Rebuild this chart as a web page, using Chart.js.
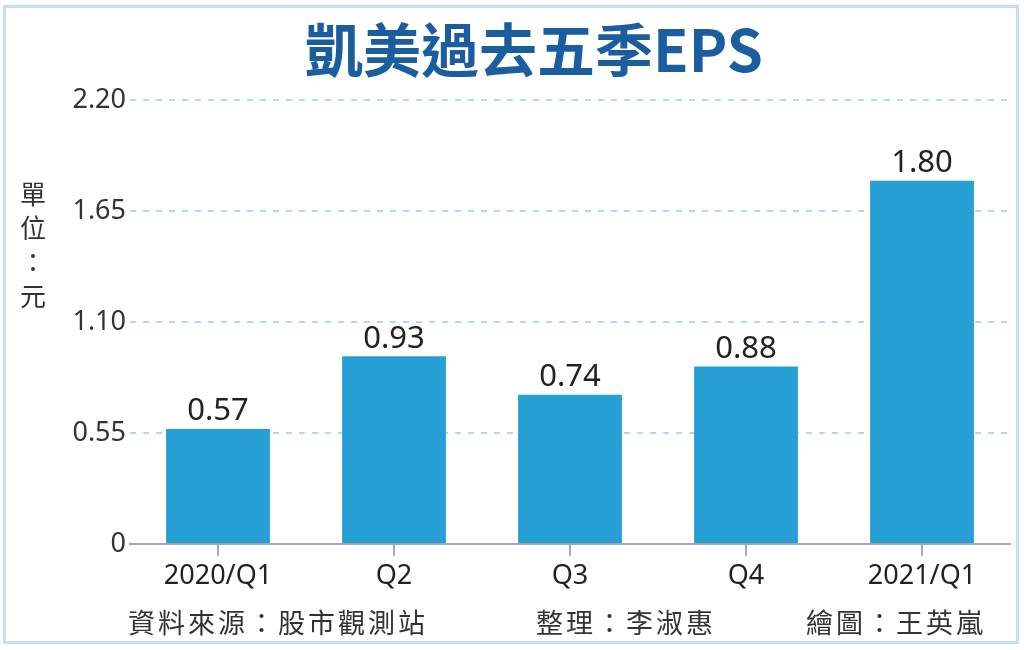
<!DOCTYPE html>
<html>
<head>
<meta charset="utf-8">
<script src="https://cdn.jsdelivr.net/npm/chart.js@4"></script>
<style>
    body { margin: 0; background: #fff; }
    #wrap { position: relative; width: 1024px; height: 650px; overflow: hidden; }
    #chartBox { position: absolute; left: 0; top: 0; width: 1024px; height: 650px; }
    .frame { position: absolute; left: 3px; top: 5px; right: 5px; bottom: 6px; border: 3px solid #c3e0f1; }
    .title { position: absolute; left: 0; width: 1068px; top: 10px; text-align: center;
        font-family: "Noto Sans CJK TC"; font-weight: 700; font-size: 58px; color: #1b5e9f; letter-spacing: 0px; line-height: 74px; }
    .unit { position: absolute; left: 19px; top: 176px; width: 28px; text-align: center;
        font-family: "Noto Sans CJK TC"; font-size: 26px; color: #333; line-height: 34px; }
    .foot { position: absolute; top: 604px; font-family: "Noto Sans CJK TC"; font-size: 27px;
        color: #333; letter-spacing: 3px; line-height: 36px; white-space: nowrap; }
</style>
</head>
<body>
<div id="wrap">
    <div class="frame"></div>
    <div id="chartBox"><canvas id="myChart"></canvas></div>
    <div class="title">凱美過去五季EPS</div>
    <div class="unit">單<br>位<br>：<br>元</div>
    <div class="foot" style="left:128px">資料來源：股市觀測站</div>
    <div class="foot" style="left:536px">整理：李淑惠</div>
    <div class="foot" style="left:806px">繪圖：王英嵐</div>
</div>
<script>
const quarters = ['2020/Q1', 'Q2', 'Q3', 'Q4', '2021/Q1'];
const eps = [0.57, 0.93, 0.74, 0.88, 1.80];
const yTicks = [0, 0.55, 1.10, 1.65, 2.20];

const valueLabels = {
    id: 'valueLabels',
    afterDatasetsDraw(chart) {
        const ctx = chart.ctx;
        const meta = chart.getDatasetMeta(0);
        ctx.save();
        ctx.font = '31px "Noto Sans"';
        ctx.fillStyle = '#222';
        ctx.textAlign = 'center';
        ctx.textBaseline = 'bottom';
        meta.data.forEach((bar, i) => {
            ctx.fillText(eps[i].toFixed(2), bar.x, bar.y - 2);
        });
        ctx.restore();
    }
};

function drawChart() {
    const ctx = document.getElementById('myChart');
    new Chart(ctx, {
        type: 'bar',
        data: {
            labels: quarters,
            datasets: [{
                data: eps,
                backgroundColor: '#26a0d4',
                barPercentage: 0.59,
                categoryPercentage: 1.0
            }]
        },
        options: {
            responsive: true,
            maintainAspectRatio: false,
            animation: false,
            layout: { padding: { top: 100, right: 14, left: 0, bottom: 0 } },
            plugins: {
                legend: { display: false },
                tooltip: { enabled: false }
            },
            scales: {
                x: {
                    grid: { offset: false, drawOnChartArea: false, drawTicks: true, tickLength: 12, color: '#aaa', lineWidth: 2 },
                    border: { color: '#a6a6a6', width: 2 },
                    ticks: { color: '#222', font: { family: 'Noto Sans', size: 27 }, padding: 4 },
                    afterFit: scale => { scale.height = 106; }
                },
                y: {
                    min: 0,
                    max: 2.2,
                    afterBuildTicks: scale => { scale.ticks = yTicks.map(v => ({ value: v })); },
                    grid: { color: '#b3d9e8', lineWidth: 2, drawTicks: false },
                    border: { display: true, width: 0, dash: [6, 7] },
                    ticks: {
                        color: '#333',
                        font: { family: 'Noto Sans', size: 27 },
                        padding: 4,
                        callback: v => v === 0 ? '0' : v.toFixed(2)
                    },
                    afterFit: scale => { scale.width = 130; }
                }
            }
        },
        plugins: [valueLabels]
    });
}

window.addEventListener('load', evt => drawChart());
</script>
</body>
</html>
